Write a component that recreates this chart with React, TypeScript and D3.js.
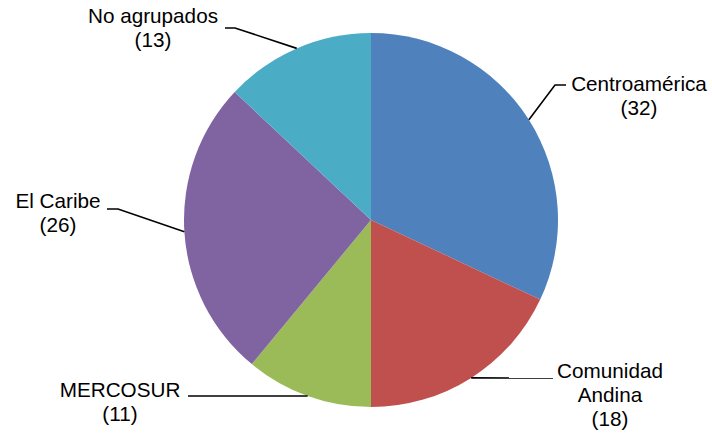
import React from "react";
import * as d3 from "d3";

const categories = ["Centroamérica", "Comunidad Andina", "MERCOSUR", "El Caribe", "No agrupados"];
const values = [32, 18, 11, 26, 13];
const colors = ["#4F81BD", "#C0504D", "#9BBB59", "#8064A2", "#4BACC6"];
// label text lines
const labelLines = [
  ["Centroamérica"],
  ["Comunidad", "Andina"],
  ["MERCOSUR"],
  ["El Caribe"],
  ["No agrupados"],
];

// layout: label center x, first baseline y, elbow point and line end near text
const labelLayout = [
  { tx: 639, ty: 91, elbowX: 555, elbowY: 85, endX: 566 },
  { tx: 610, ty: 378, elbowX: 553, elbowY: 378, endX: 553 },
  { tx: 120, ty: 397, elbowX: 188, elbowY: 396, endX: 188 },
  { tx: 58, ty: 208, elbowX: 118, elbowY: 209, endX: 107 },
  { tx: 153, ty: 23, elbowX: 235, elbowY: 28, endX: 225 },
];

const W = 712;
const H = 433;
const cx = 371;
const cy = 220;
const R = 187;
const lineH = 24;

export default function App() {
  const data = categories.map((c, i) => ({ c, v: values[i], i }));
  const pie = d3.pie<any>().value((d) => d.v).sort(null).startAngle(0).endAngle(2 * Math.PI);
  const arcs = pie(data);
  const arc = d3.arc<any>().innerRadius(0).outerRadius(R);

  return (
    <svg
      width={W}
      height={H}
      style={{ position: "absolute", left: 0, top: 0, background: "#fff" }}
      fontFamily="'Liberation Sans', Arial, sans-serif"
    >
      <g transform={`translate(${cx},${cy})`}>
        {arcs.map((a, i) => (
          <path key={i} d={arc(a) as string} fill={colors[i]} />
        ))}
      </g>
      {arcs.map((a, i) => {
        const mid = (a.startAngle + a.endAngle) / 2;
        const px = cx + R * Math.sin(mid);
        const py = cy - R * Math.cos(mid);
        const L = labelLayout[i];
        const pts = [
          [px, py],
          [L.elbowX, L.elbowY],
          [L.endX, L.elbowY],
        ];
        const lines = [...labelLines[i], `(${values[i]})`];
        return (
          <g key={"l" + i}>
            <path
              d={d3.line()(pts as any) as string}
              fill="none"
              stroke="#000"
              strokeWidth={1.6}
            />
            <text textAnchor="middle" fontSize={20.7} fill="#000">
              {lines.map((t, j) => (
                <tspan key={j} x={L.tx} y={L.ty + j * lineH}>
                  {t}
                </tspan>
              ))}
            </text>
          </g>
        );
      })}
    </svg>
  );
}
